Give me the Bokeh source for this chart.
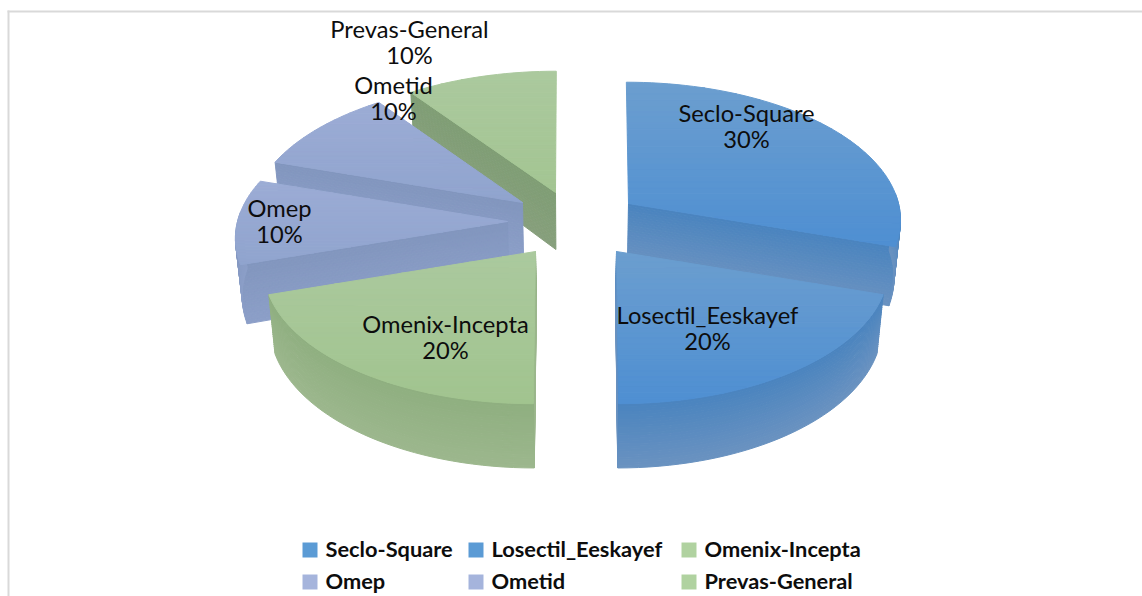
import math
from bokeh.plotting import figure
from bokeh.models import Range1d
from bokeh.core.properties import value
from bokeh.embed import file_html
from bokeh.resources import INLINE

# ---- data ----
names = ["Seclo-Square", "Losectil_Eeskayef", "Omenix-Incepta", "Omep", "Ometid", "Prevas-General"]
shares = [30, 20, 20, 10, 10, 10]

# ---- layout (page pixels) ----
W, H = 1142, 596
apex = [(628, 203), (616, 251), (535, 251), (507, 221), (522, 202), (555, 192)]
label_pos = [(746, 112), (707, 314), (445, 323), (279, 207), (393, 84), (409, 28)]
legend_pos = [(302, 549.5), (468, 549.5), (681, 549.5), (302, 581.5), (468, 581.5), (681, 581.5)]
legend_txt_dx = 23
RX, RY, K, D0, VX = 270.0, 135.0, 0.113, 57.0, 575.0
BANDS = 28

# (top start, top end, side start, side end, legend)
blue = ("#6C9ECF", "#4E8FD2", "#4A84BF", "#6A92C0", "#5B9BD5")
lav = ("#9CACD5", "#90A4CE", "#8296BE", "#8C9FC8", "#A5B4DC")
green = ("#ABC99E", "#A1C48F", "#8FAF80", "#9CB78D", "#B0D2A0")
green_back = ("#ABC99E", "#A3C592", "#7F9E75", "#879F7C", "#B0D2A0")
styles = [blue, blue, green, lav, lav, green_back]


def hex2rgb(c):
    return tuple(int(c[i:i + 2], 16) for i in (1, 3, 5))


def mix(a, b, t):
    ra, rb = hex2rgb(a), hex2rgb(b)
    return "#%02x%02x%02x" % tuple(round(ra[i] + (rb[i] - ra[i]) * t) for i in range(3))


def project(cx, cy, ang):
    """Clockwise-from-top pie angle (degrees) -> page pixels with perspective."""
    u, v = math.sin(math.radians(ang)), math.cos(math.radians(ang))
    w = 1 + K * v
    x = cx + RX * u / w + (VX - cx) * (1 - 1 / w) * 0.4
    y = cy - RY * v / w
    return x, y, w


def drop(cx, cy, ang):
    x, y, w = project(cx, cy, ang)
    return x + (VX - x) * 0.02, y + D0 / w


def clip_band(poly, y0, y1):
    def clip(points, inside, cross):
        out = []
        for i, a in enumerate(points):
            b = points[(i + 1) % len(points)]
            if inside(a):
                out.append(a)
                if not inside(b):
                    out.append(cross(a, b))
            elif inside(b):
                out.append(cross(a, b))
        return out

    def at(yv):
        return lambda a, b: (a[0] + (b[0] - a[0]) * (yv - a[1]) / (b[1] - a[1]), yv)

    res = clip(poly, lambda q: q[1] >= y0, at(y0))
    if res:
        res = clip(res, lambda q: q[1] <= y1, at(y1))
    return res


def shade(p, poly, c0, c1):
    ys = [q[1] for q in poly]
    lo, hi = min(ys), max(ys)
    step = (hi - lo) / BANDS
    xs_out, ys_out, cols = [], [], []
    for i in range(BANDS):
        part = clip_band(poly, lo + i * step, lo + (i + 1) * step)
        if len(part) >= 3:
            xs_out.append([q[0] for q in part])
            ys_out.append([q[1] for q in part])
            cols.append(mix(c0, c1, (i + 0.5) / BANDS))
    p.patches(xs_out, ys_out, fill_color=cols, line_color=cols, line_width=1)


def ribbon(p, upper, lower, c0, c1, layers=24):
    """Fill between two matching curves, colour running from the upper to the lower one."""
    def lerp(t):
        return [(a[0] + (b[0] - a[0]) * t, a[1] + (b[1] - a[1]) * t) for a, b in zip(upper, lower)]
    xs_out, ys_out, cols = [], [], []
    for i in range(layers):
        top_c, bot_c = lerp(i / layers), lerp((i + 1) / layers)
        ring = top_c + bot_c[::-1]
        xs_out.append([q[0] for q in ring])
        ys_out.append([q[1] for q in ring])
        cols.append(mix(c0, c1, (i + 0.5) / layers))
    p.patches(xs_out, ys_out, fill_color=cols, line_color=cols, line_width=1)


p = figure(width=W, height=H, output_backend="svg", toolbar_location=None,
           x_range=Range1d(0, W), y_range=Range1d(H, 0), min_border=0)
p.axis.visible = False
p.grid.visible = False
p.outline_line_color = None
p.background_fill_color = "white"

# chart frame
p.quad(left=[7, 7], right=[1142, 9], top=[10, 10], bottom=[12, 596],
       fill_color="#D9D9D9", line_color=None)

# angular extents come from the shares
total = sum(shares)
spans, acc = [], 0.0
for s in shares:
    spans.append((acc * 360 / total, (acc + s) * 360 / total))
    acc += s

# back-to-front painting order
for i in [5, 4, 3, 0, 1, 2]:
    a0, a1 = spans[i]
    cx, cy = apex[i]
    c_top0, c_top1, c_side0, c_side1, _ = styles[i]
    n = max(8, int((a1 - a0) / 2))
    angs = [a0 + (a1 - a0) * j / n for j in range(n + 1)]

    rim = [project(cx, cy, a)[:2] for a in angs]
    apex_low = (cx + (VX - cx) * 0.02, cy + D0)

    # cut faces that look towards the viewer
    visible = [a for a, ok in ((a0, a0 >= 180), (a1, a1 <= 180)) if ok]
    for a in visible:
        ribbon(p, [(cx, cy), project(cx, cy, a)[:2]], [apex_low, drop(cx, cy, a)], c_side0, c_side1)

    # outer wall: only its front part can be seen
    front = [a for a in angs if 85 <= a <= 275]
    if len(front) >= 2:
        ribbon(p, [project(cx, cy, a)[:2] for a in front], [drop(cx, cy, a) for a in front],
               c_side0, c_side1)

    # top surface
    shade(p, [(cx, cy)] + rim, c_top0, c_top1)

# data labels
for name, share, (lx, ly) in zip(names, shares, label_pos):
    p.text([lx], [ly], text=[name], text_font=value("Lato"), text_font_size="23.7px",
           text_align="center", text_baseline="middle", text_color="#0D0D0D")
    p.text([lx], [ly + 26], text=[f"{share * 100 // total}%"], text_font=value("Lato"),
           text_font_size="23.7px", text_align="center", text_baseline="middle", text_color="#0D0D0D")

# legend
for name, st, (lx, ly) in zip(names, styles, legend_pos):
    p.quad(left=[lx], right=[lx + 15], top=[ly - 7.5], bottom=[ly + 7.5], fill_color=st[4], line_color=None)
    p.text([lx + legend_txt_dx], [ly - 1.5], text=[name], text_font=value("Lato"), text_font_size="21.8px",
           text_font_style="bold", text_align="left", text_baseline="middle", text_color="#0D0D0D")

open("out.html", "w").write(file_html(p, INLINE))
